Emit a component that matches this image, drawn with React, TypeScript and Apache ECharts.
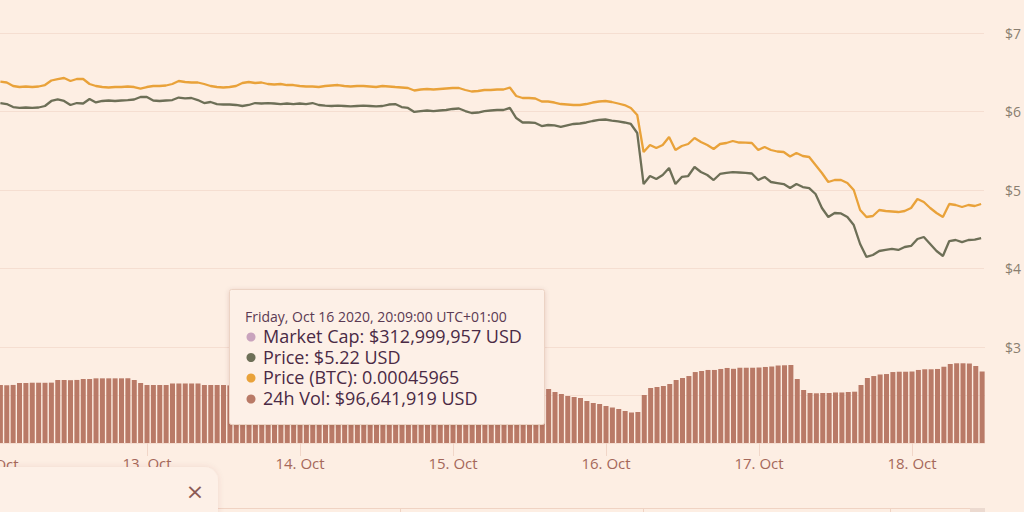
import React, { useEffect, useRef } from "react";
import * as echarts from "echarts";

// Hourly samples, first one at 12 Oct 2020 01:00 (x value = hours since 12 Oct 00:00)
const firstHour = 1;
const dayTicks = [24, 48, 72, 96, 120, 144];
const dayTickLabels = ["13. Oct", "14. Oct", "15. Oct", "16. Oct", "17. Oct", "18. Oct"];
const hiddenFirstDayLabel = "12. Oct";
const priceTicks = [3, 4, 5, 6, 7];

const priceUsd = [
  6.108, 6.095, 6.057, 6.045, 6.051, 6.045, 6.051, 6.070, 6.134, 6.153,
  6.134, 6.083, 6.108, 6.102, 6.159, 6.115, 6.134, 6.140, 6.134, 6.140,
  6.146, 6.153, 6.185, 6.185, 6.140, 6.134, 6.140, 6.146, 6.178, 6.166,
  6.172, 6.146, 6.108, 6.121, 6.095, 6.089, 6.089, 6.083, 6.070, 6.083,
  6.108, 6.102, 6.108, 6.102, 6.095, 6.102, 6.095, 6.102, 6.095, 6.108,
  6.083, 6.076, 6.070, 6.076, 6.070, 6.064, 6.070, 6.076, 6.070, 6.064,
  6.070, 6.089, 6.095, 6.057, 6.045, 5.994, 6.006, 6.013, 6.006, 6.013,
  6.019, 6.032, 6.038, 6.006, 5.981, 5.987, 6.006, 6.013, 6.019, 6.019,
  6.045, 5.917, 5.860, 5.860, 5.854, 5.815, 5.828, 5.822, 5.803, 5.822,
  5.841, 5.847, 5.860, 5.879, 5.892, 5.898, 5.885, 5.873, 5.860, 5.841,
  5.726, 5.076, 5.178, 5.140, 5.191, 5.280, 5.076, 5.166, 5.178, 5.293,
  5.229, 5.191, 5.127, 5.204, 5.217, 5.229, 5.223, 5.217, 5.210, 5.127,
  5.166, 5.102, 5.089, 5.076, 5.025, 5.076, 5.038, 5.025, 4.949, 4.771,
  4.656, 4.707, 4.701, 4.656, 4.554, 4.312, 4.147, 4.172, 4.223, 4.236,
  4.249, 4.236, 4.274, 4.287, 4.376, 4.401, 4.312, 4.223, 4.159, 4.350,
  4.363, 4.337, 4.363, 4.369, 4.388,
];

const priceBtc = [
  0.00051657, 0.00051586, 0.00051273, 0.00051184, 0.00051229, 0.00051184, 0.00051229, 0.00051362, 0.00051764, 0.00051897,
  0.00051987, 0.00051719, 0.00051897, 0.00051897, 0.00051452, 0.00051273, 0.00051184, 0.00051140, 0.00051184, 0.00051184,
  0.00051229, 0.00051184, 0.00051050, 0.00051184, 0.00051273, 0.00051273, 0.00051318, 0.00051452, 0.00051719, 0.00051630,
  0.00051586, 0.00051586, 0.00051452, 0.00051273, 0.00051184, 0.00051140, 0.00051184, 0.00051273, 0.00051541, 0.00051630,
  0.00051541, 0.00051586, 0.00051452, 0.00051407, 0.00051452, 0.00051362, 0.00051362, 0.00051273, 0.00051229, 0.00051229,
  0.00051184, 0.00051273, 0.00051318, 0.00051362, 0.00051273, 0.00051229, 0.00051273, 0.00051273, 0.00051229, 0.00051184,
  0.00051273, 0.00051229, 0.00051184, 0.00051140, 0.00051095, 0.00050872, 0.00050961, 0.00051006, 0.00050961, 0.00051006,
  0.00051050, 0.00051095, 0.00051095, 0.00050917, 0.00050783, 0.00050828, 0.00050917, 0.00050917, 0.00050961, 0.00050961,
  0.00051140, 0.00050382, 0.00050203, 0.00050203, 0.00050159, 0.00049891, 0.00049891, 0.00049802, 0.00049668, 0.00049624,
  0.00049579, 0.00049579, 0.00049668, 0.00049802, 0.00049891, 0.00049936, 0.00049847, 0.00049713, 0.00049579, 0.00049312,
  0.00048688, 0.00045388, 0.00046012, 0.00045745, 0.00046012, 0.00046726, 0.00045567, 0.00045923, 0.00046102, 0.00046637,
  0.00046280, 0.00046012, 0.00045656, 0.00046102, 0.00046191, 0.00046369, 0.00046235, 0.00046218, 0.00046191, 0.00045567,
  0.00045834, 0.00045567, 0.00045433, 0.00045388, 0.00044987, 0.00045299, 0.00045031, 0.00044942, 0.00044229, 0.00043515,
  0.00042713, 0.00042891, 0.00042891, 0.00042624, 0.00041999, 0.00040216, 0.00039592, 0.00039681, 0.00040216, 0.00040127,
  0.00040082, 0.00040037, 0.00040127, 0.00040394, 0.00041197, 0.00040929, 0.00040394, 0.00039948, 0.00039592, 0.00040751,
  0.00040662, 0.00040483, 0.00040662, 0.00040573, 0.00040751,
];

// 24h volume, millions of USD
const volumeUsdM = [
  75.5, 75.3, 75.6, 78.1, 78.1, 78.5, 78.5, 78.4, 78.6, 82.0,
  82.0, 81.8, 82.1, 83.3, 83.3, 84.2, 84.2, 84.2, 84.2, 84.2,
  84.2, 82.0, 78.1, 75.5, 75.5, 75.5, 75.5, 77.5, 77.5, 77.5,
  77.5, 77.5, 75.5, 75.5, 75.5, 75.5, 75.0, 75.2, 74.8, 74.6,
  74.5, 74.4, 74.3, 74.2, 74.2, 74.6, 74.9, 75.1, 75.0, 74.7,
  74.4, 74.1, 73.9, 74.0, 74.3, 74.5, 74.2, 73.8, 73.6, 73.5,
  73.8, 74.0, 73.7, 73.4, 73.2, 73.5, 73.8, 73.6, 73.4, 73.3,
  73.6, 73.6, 73.5, 73.4, 73.2, 73.1, 73.0, 73.2, 73.1, 73.0,
  72.9, 72.9, 72.5, 72.0, 71.6, 71.6, 70.3, 66.4, 63.8, 61.2,
  59.9, 58.6, 54.7, 52.1, 50.8, 48.2, 46.2, 44.3, 41.7, 39.7,
  40.4, 62.5, 71.6, 72.9, 74.2, 76.8, 82.0, 84.6, 87.2, 92.4,
  93.75, 95.1, 95.1, 96.4, 97.7, 96.6, 98.0, 98.0, 98.0, 98.3,
  99.0, 99.6, 100.9, 101.2, 101.6, 83.3, 69.0, 65.1, 64.7, 65.1,
  65.1, 65.8, 65.8, 66.4, 66.8, 75.5, 84.6, 87.2, 89.2, 89.8,
  92.4, 92.8, 92.8, 93.1, 95.1, 96.0, 96.0, 96.4, 99.3, 102.9,
  103.8, 103.8, 103.5, 100.3, 93.1,
];

const tooltipHeader = "Friday, Oct 16 2020, 20:09:00 UTC+01:00";
const tooltipRows = [
  { label: "Market Cap: $312,999,957 USD", color: "#c9a3bd" },
  { label: "Price: $5.22 USD", color: "#6d6f57" },
  { label: "Price (BTC): 0.00045965", color: "#e9a23a" },
  { label: "24h Vol: $96,641,919 USD", color: "#b97a67" },
];

const BG = "#fdeee3";
const GRID = "#f5ded1";
const OLIVE = "#6d6f57";
const ORANGE = "#e9a23a";
const BAR = "#b97a67";
const XLABEL = "#a5685a";
const YLABEL = "#8a7e70";
const FONT = "'Open Sans', sans-serif";

const X_MIN = 0.94;
const X_MAX = 155.45;

const hourOf = (i: number) => firstHour + i;

export default function App() {
  const ref = useRef<HTMLDivElement>(null);
  useEffect(() => {
    const chart = echarts.init(ref.current!, null, { renderer: "svg" });
    const rowY = [336, 356.5, 377, 398];
    const TZ = 100;
    const option: any = {
      animation: false,
      backgroundColor: BG,
      grid: [
        { left: 0, right: 39, top: 33, height: 314 },
        { left: 0, right: 39, top: 347, height: 96 },
      ],
      xAxis: [
        { type: "value", gridIndex: 0, min: X_MIN, max: X_MAX, show: false },
        {
          type: "value",
          gridIndex: 1,
          min: X_MIN,
          max: X_MAX,
          axisLine: { show: false },
          splitLine: { show: false },
          axisTick: { show: true, customValues: dayTicks, length: 13, lineStyle: { color: "#f1d6c8" } },
          axisLabel: {
            customValues: dayTicks,
            formatter: (v: number) => dayTickLabels[dayTicks.indexOf(v)] ?? "",
            margin: 12,
            color: XLABEL,
            fontSize: 15,
            fontFamily: FONT,
          },
        },
      ],
      yAxis: [
        {
          type: "value",
          gridIndex: 0,
          position: "right",
          min: priceTicks[0],
          max: priceTicks[priceTicks.length - 1],
          interval: 1,
          axisLine: { show: false },
          axisTick: { show: false },
          axisLabel: {
            formatter: (v: number) => "$" + v,
            margin: 21,
            color: YLABEL,
            fontSize: 14,
            fontFamily: FONT,
            align: "left",
          },
          splitLine: { lineStyle: { color: GRID, width: 1 } },
        },
        { type: "value", gridIndex: 0, min: 0.00028, max: 0.00056, show: false },
        {
          type: "value",
          gridIndex: 1,
          min: 0,
          max: 125,
          interval: 62.5,
          axisLine: { show: false },
          axisTick: { show: false },
          axisLabel: { show: false },
          splitLine: { lineStyle: { color: GRID, width: 1 } },
        },
      ],
      series: [
        {
          name: "24h Vol",
          type: "bar",
          xAxisIndex: 1,
          yAxisIndex: 2,
          barWidth: 5,
          itemStyle: { color: BAR },
          data: volumeUsdM.map((v, i) => [hourOf(i), v]),
        },
        {
          name: "Price",
          type: "line",
          xAxisIndex: 0,
          yAxisIndex: 0,
          showSymbol: false,
          lineStyle: { color: OLIVE, width: 2.3 },
          itemStyle: { color: OLIVE },
          data: priceUsd.map((v, i) => [hourOf(i), v]),
        },
        {
          name: "Price (BTC)",
          type: "line",
          xAxisIndex: 0,
          yAxisIndex: 1,
          showSymbol: false,
          lineStyle: { color: ORANGE, width: 2.3 },
          itemStyle: { color: ORANGE },
          data: priceBtc.map((v, i) => [hourOf(i), v]),
        },
      ],
      graphic: [
        {
          type: "text",
          x: -6,
          y: 464,
          style: {
            text: hiddenFirstDayLabel,
            fill: XLABEL,
            font: "15px " + FONT,
            textAlign: "center",
            textVerticalAlign: "middle",
          },
        },
        // bottom navigator strip
        { type: "line", shape: { x1: 218, y1: 508.5, x2: 985, y2: 508.5 }, style: { stroke: "#f0d3c3", lineWidth: 1 } },
        { type: "line", shape: { x1: 400.5, y1: 508, x2: 400.5, y2: 512 }, style: { stroke: "#f0d3c3", lineWidth: 1 } },
        { type: "line", shape: { x1: 643.5, y1: 508, x2: 643.5, y2: 512 }, style: { stroke: "#f0d3c3", lineWidth: 1 } },
        { type: "line", shape: { x1: 890.5, y1: 508, x2: 890.5, y2: 512 }, style: { stroke: "#f0d3c3", lineWidth: 1 } },
        { type: "rect", shape: { x: 970, y: 508, width: 15, height: 4 }, style: { fill: "#ecdad0" } },
        // bottom-left panel
        {
          type: "rect",
          z: 50,
          shape: { x: -20, y: 467, width: 238, height: 80, r: 14 },
          style: { fill: "#fdf0e7", shadowBlur: 6, shadowColor: "rgba(120,60,40,0.10)" },
        },
        {
          type: "text",
          z: 51,
          x: 195,
          y: 491,
          style: {
            text: "×",
            fill: "#8c5a55",
            font: "22px 'DejaVu Sans', sans-serif",
            textAlign: "center",
            textVerticalAlign: "middle",
          },
        },
        // static tooltip
        {
          type: "rect",
          z: TZ,
          shape: { x: 229.5, y: 289.5, width: 315, height: 135, r: 2 },
          style: {
            fill: "#fdf0e7",
            stroke: "#ecd3c4",
            lineWidth: 1,
            shadowBlur: 5,
            shadowOffsetY: 1,
            shadowColor: "rgba(90,40,20,0.15)",
          },
        },
        {
          type: "text",
          z: TZ + 1,
          x: 245,
          y: 316,
          style: {
            text: tooltipHeader,
            fill: "#5b3a53",
            font: "14px " + FONT,
            lineHeight: 16,
            textAlign: "left",
            textVerticalAlign: "middle",
          },
        },
        ...tooltipRows.flatMap((r, i) => [
          { type: "circle", z: TZ + 1, shape: { cx: 251, cy: rowY[i] + 1, r: 4.5 }, style: { fill: r.color } },
          {
            type: "text",
            z: TZ + 1,
            x: 263,
            y: rowY[i],
            style: {
              text: r.label,
              fill: "#4a2a45",
              font: "18px " + FONT,
              lineHeight: 19,
              textAlign: "left",
              textVerticalAlign: "middle",
            },
          },
        ]),
      ],
    };
    chart.setOption(option);
    return () => chart.dispose();
  }, []);
  return (
    <div
      ref={ref}
      style={{ position: "fixed", left: 0, top: 0, width: 1024, height: 512 }}
    />
  );
}
